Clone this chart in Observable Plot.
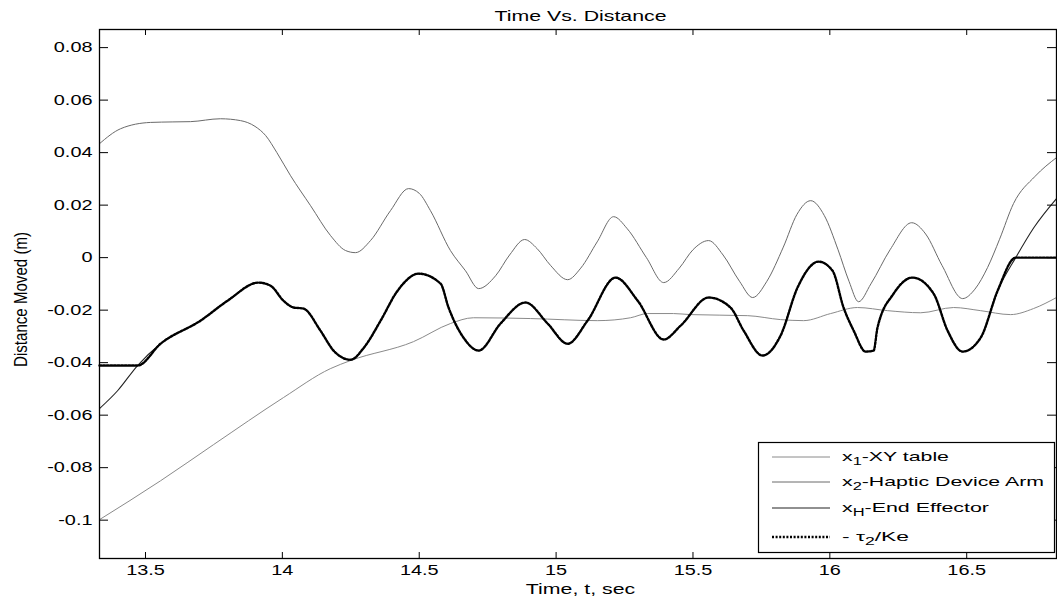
<!DOCTYPE html>
<html><head><meta charset="utf-8">
<script src="https://cdn.jsdelivr.net/npm/d3@7"></script>
<script src="https://cdn.jsdelivr.net/npm/@observablehq/plot@0.6"></script>
<style>body{margin:0;background:#fff;} svg{display:block}</style>
</head><body><div id="chart"></div>
<script>
const titleText = "Time Vs. Distance";
const xLabel = "Time, t, sec";
const yLabel = "Distance Moved (m)";
const xTicks = [13.5, 14, 14.5, 15, 15.5, 16, 16.5];
const yTicks = [-0.1, -0.08, -0.06, -0.04, -0.02, 0, 0.02, 0.04, 0.06, 0.08];

// x1 - XY table
const x1T = [13.332,13.555,13.749,14.004,14.175,14.249,14.479,14.614,14.698,14.907,15.152,15.272,15.334,15.429,15.491,15.700,15.820,15.904,16.003,16.101,16.211,16.332,16.452,16.551,16.660,16.744,16.828];
const x1V = [-0.0998,-0.0850,-0.0712,-0.0533,-0.0423,-0.0392,-0.0320,-0.0251,-0.0229,-0.0232,-0.0240,-0.0229,-0.0213,-0.0213,-0.0217,-0.0221,-0.0236,-0.0240,-0.0213,-0.0190,-0.0202,-0.0210,-0.0190,-0.0202,-0.0217,-0.0194,-0.0152];

// x2 - Haptic Device Arm
const x2T = [13.332,13.409,13.518,13.600,13.664,13.774,13.847,13.900,13.939,13.980,14.030,14.103,14.176,14.231,14.267,14.322,14.395,14.461,14.500,14.541,14.614,14.669,14.717,14.779,14.830,14.885,14.930,14.980,15.042,15.090,15.150,15.210,15.260,15.330,15.393,15.450,15.500,15.557,15.610,15.670,15.718,15.770,15.830,15.880,15.930,15.980,16.030,16.070,16.105,16.150,16.220,16.299,16.350,16.410,16.485,16.530,16.576,16.620,16.671,16.750,16.828];
const x2V = [0.0434,0.0491,0.0515,0.0517,0.0518,0.0529,0.0522,0.0500,0.0465,0.0400,0.0312,0.0198,0.0084,0.0027,0.0019,0.0065,0.0179,0.0263,0.0245,0.0179,0.0027,-0.0050,-0.0118,-0.0069,0.0010,0.0069,0.0035,-0.0030,-0.0084,-0.0040,0.0060,0.0156,0.0110,0.0000,-0.0095,-0.0040,0.0030,0.0065,0.0010,-0.0090,-0.0152,-0.0090,0.0040,0.0165,0.0217,0.0160,0.0030,-0.0090,-0.0168,-0.0100,0.0030,0.0133,0.0090,-0.0030,-0.0156,-0.0120,-0.0038,0.0070,0.0206,0.0310,0.0381];

// xH - End Effector
const xhT = [13.332,13.398,13.471,13.555,13.701,13.800,13.913,13.957,14.004,14.041,14.077,14.139,14.187,14.249,14.300,14.359,14.421,14.498,14.578,14.607,14.662,14.717,14.797,14.888,14.969,15.042,15.115,15.217,15.298,15.393,15.455,15.557,15.637,15.685,15.754,15.820,15.882,15.959,16.010,16.050,16.087,16.131,16.160,16.174,16.233,16.302,16.379,16.430,16.485,16.551,16.613,16.679,16.745,16.828];
const xhV = [-0.0575,-0.0507,-0.0411,-0.0328,-0.0240,-0.0164,-0.0095,-0.0107,-0.0164,-0.0190,-0.0194,-0.0278,-0.0354,-0.0389,-0.0340,-0.0240,-0.0126,-0.0061,-0.0099,-0.0190,-0.0305,-0.0354,-0.0251,-0.0171,-0.0251,-0.0328,-0.0240,-0.0076,-0.0164,-0.0312,-0.0259,-0.0152,-0.0190,-0.0278,-0.0373,-0.0297,-0.0114,-0.0015,-0.0050,-0.0190,-0.0278,-0.0358,-0.0354,-0.0267,-0.0137,-0.0076,-0.0137,-0.0278,-0.0358,-0.0305,-0.0126,0.0000,0.0114,0.0225];

// - tau2 / Ke
const tauT = [13.332,13.471,13.555,13.701,13.800,13.913,13.957,14.004,14.041,14.077,14.139,14.187,14.249,14.300,14.359,14.421,14.498,14.578,14.607,14.662,14.717,14.797,14.888,14.969,15.042,15.115,15.217,15.298,15.393,15.455,15.557,15.637,15.685,15.754,15.820,15.882,15.959,16.010,16.050,16.087,16.131,16.160,16.174,16.233,16.302,16.379,16.430,16.485,16.551,16.613,16.679,16.828];
const tauV = [-0.0411,-0.0411,-0.0328,-0.0240,-0.0164,-0.0095,-0.0107,-0.0164,-0.0190,-0.0194,-0.0278,-0.0354,-0.0389,-0.0340,-0.0240,-0.0126,-0.0061,-0.0099,-0.0190,-0.0305,-0.0354,-0.0251,-0.0171,-0.0251,-0.0328,-0.0240,-0.0076,-0.0164,-0.0312,-0.0259,-0.0152,-0.0190,-0.0278,-0.0373,-0.0297,-0.0114,-0.0015,-0.0050,-0.0190,-0.0278,-0.0358,-0.0354,-0.0267,-0.0137,-0.0076,-0.0137,-0.0278,-0.0358,-0.0305,-0.0126,0.0000,0.0000];

const rows = (T, V) => T.map((t, i) => ({t, v: V[i]}));

const series = [
  {main: "x", sub: "1", rest: "-XY table", stroke: "#8a8a8a", width: 1, dash: null, len: 107},
  {main: "x", sub: "2", rest: "-Haptic Device Arm", stroke: "#6a6a6a", width: 1, dash: null, len: 202},
  {main: "x", sub: "H", rest: "-End Effector", stroke: "#222", width: 1.1, dash: null, len: 147},
  {main: "- \u03C4", sub: "2", rest: "/Ke", stroke: "#000", width: 2.4, dash: "2,1.6", len: 67}
];

const fmtY = d => { const r = Math.round(d * 100) / 100; return r === 0 ? "0" : String(r); };

// frame size: 957 x 529 px
const plot = Plot.plot({
  width: 1057, height: 600,
  marginLeft: 99, marginRight: 1, marginTop: 29, marginBottom: 42,
  style: {fontFamily: "'Liberation Sans', Arial, sans-serif", fontSize: "14px", background: "#fff", color: "#000"},
  x: {domain: [13.332, 16.828]},
  y: {domain: [-0.1146, 0.0869]},
  marks: [
    Plot.line(rows(x1T, x1V), {x: "t", y: "v", stroke: series[0].stroke, strokeWidth: series[0].width, curve: "monotone-x"}),
    Plot.line(rows(x2T, x2V), {x: "t", y: "v", stroke: series[1].stroke, strokeWidth: series[1].width, curve: "monotone-x"}),
    Plot.line(rows(xhT, xhV), {x: "t", y: "v", stroke: series[2].stroke, strokeWidth: series[2].width, curve: "monotone-x"}),
    Plot.line(rows(tauT, tauV), {x: "t", y: "v", stroke: series[3].stroke, strokeWidth: series[3].width, strokeDasharray: series[3].dash, curve: "monotone-x"}),
    Plot.frame({stroke: "#000", strokeWidth: 1.3}),
    // inward tick marks on all four sides
    Plot.tickX(xTicks, {x: d => d, insetTop: 523, stroke: "#000"}),
    Plot.tickX(xTicks, {x: d => d, insetBottom: 523, stroke: "#000"}),
    Plot.tickY(yTicks, {y: d => d, insetRight: 948, stroke: "#000"}),
    Plot.tickY(yTicks, {y: d => d, insetLeft: 948, stroke: "#000"}),
    Plot.axisX({anchor: "bottom", ticks: xTicks, tickSize: 0, tickPadding: 7, tickFormat: d => String(d), label: null}),
    Plot.axisY({anchor: "left", ticks: yTicks, tickSize: 0, tickPadding: 7, tickFormat: fmtY, label: null}),
    Plot.text([titleText], {text: d => d, frameAnchor: "top", lineAnchor: "middle", textAnchor: "middle", dy: -13.1, dx: 2.5, fontSize: 15}),
    Plot.text([xLabel], {text: d => d, frameAnchor: "bottom", lineAnchor: "middle", textAnchor: "middle", dy: 30.2, dx: 2.5, fontSize: 15}),
    Plot.text([yLabel], {text: d => d, frameAnchor: "left", lineAnchor: "middle", textAnchor: "middle", rotate: -90, dx: -78, dy: 5.5, fontSize: 18})
  ]
});

document.getElementById("chart").appendChild(plot);

// horizontal stretch of text, matching the reference's aspect
const stretch = 1.42;
plot.querySelectorAll("text").forEach(t => {
  if (t.textContent === yLabel) {
    t.setAttribute("textLength", 135);
    t.setAttribute("lengthAdjust", "spacingAndGlyphs");
    return;
  }
  const w = t.getComputedTextLength();
  if (w > 0) {
    t.setAttribute("textLength", w * stretch);
    t.setAttribute("lengthAdjust", "spacingAndGlyphs");
  }
});

// legend
const svg = d3.select(plot);
const lg = svg.append("g").attr("font-family", "'Liberation Sans', Arial, sans-serif")
  .attr("font-size", 13).attr("text-anchor", "start");
lg.append("rect").attr("x", 758.5).attr("y", 442.5).attr("width", 296).attr("height", 110)
  .attr("fill", "#fff").attr("stroke", "#000").attr("stroke-width", 1.2);
const rowY = [457, 482, 508, 537];
series.forEach((s, i) => {
  lg.append("line").attr("x1", 772).attr("x2", 830).attr("y1", rowY[i]).attr("y2", rowY[i])
    .attr("stroke", s.stroke).attr("stroke-width", s.width).attr("stroke-dasharray", s.dash);
  const tx = lg.append("text").attr("x", 842).attr("y", rowY[i] + 4).attr("text-anchor", "start")
    .attr("textLength", s.len).attr("lengthAdjust", "spacingAndGlyphs").attr("fill", "#000");
  tx.append("tspan").text(s.main);
  tx.append("tspan").attr("dy", 4).attr("font-size", 10).text(s.sub);
  tx.append("tspan").attr("dy", -4).text(s.rest);
});
</script>
</body></html>
